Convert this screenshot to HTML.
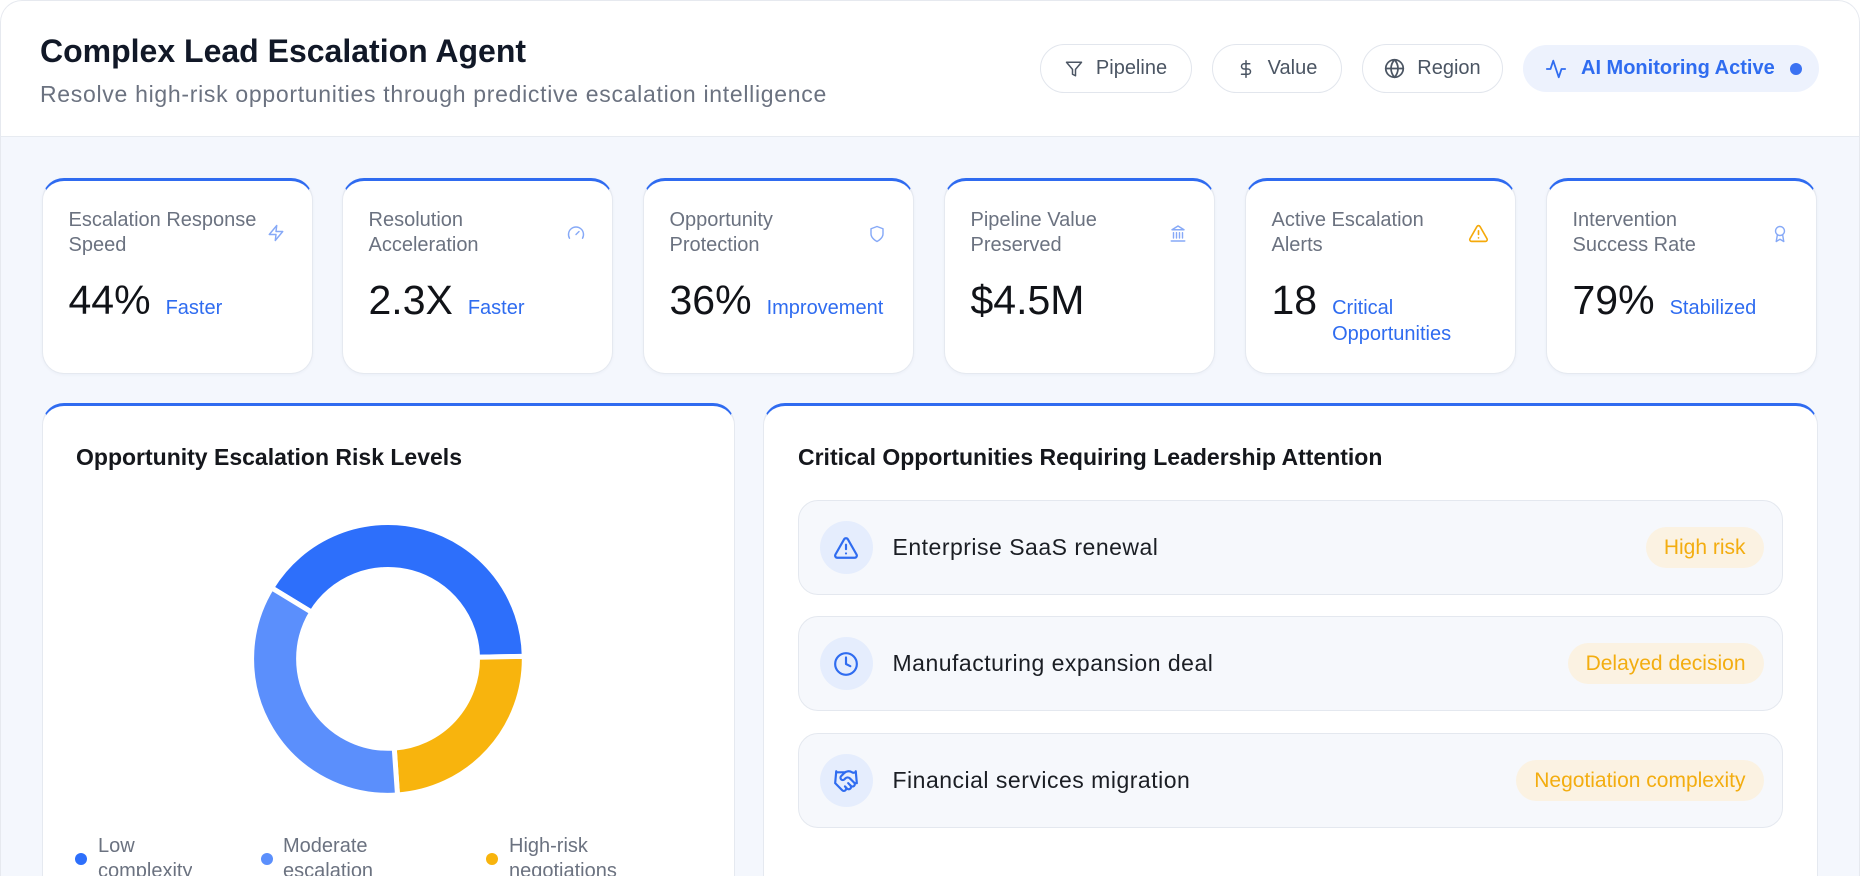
<!DOCTYPE html>
<html><head><meta charset="utf-8">
<style>
*{box-sizing:border-box;margin:0;padding:0}
html,body{width:1860px;height:876px;overflow:hidden;background:#fff;font-family:"Liberation Sans",Arial,sans-serif}
.wrap{position:absolute;left:0;top:0;width:1860px;height:876px;border-radius:22px 22px 0 0;background:#f4f7fd;overflow:hidden}
.frame{position:absolute;left:0;top:0;width:1860px;height:876px;border-radius:22px 22px 0 0;border:1px solid #e6e9ef;border-bottom:none;pointer-events:none}
.header{position:absolute;left:0;top:0;width:1860px;height:137px;background:#fff;border-bottom:1px solid #e7ebf1}
.abs{position:absolute;white-space:nowrap}
.title{left:40px;top:35px;font-size:32px;line-height:32px;font-weight:bold;color:#111827}
.sub{left:40px;top:83px;font-size:23px;line-height:23px;color:#6b7280;letter-spacing:0.7px}
.pill{position:absolute;top:44px;height:49px;border:1.5px solid #e2e6ed;border-radius:25px;background:#fff;display:flex;align-items:center;justify-content:center;gap:13px;font-size:20px;color:#4b5563;white-space:nowrap}
.pill svg{fill:none;stroke:#4b5563;stroke-width:2;stroke-linecap:round;stroke-linejoin:round}
.ai{position:absolute;left:1523px;top:45px;width:296px;height:47px;border-radius:24px;background:#edf2fd;display:flex;align-items:center;padding-left:22px;font-size:20px;font-weight:bold;color:#2f6cf0;white-space:nowrap}
.ai svg{fill:none;stroke:#2f6cf0;stroke-width:2;stroke-linecap:round;stroke-linejoin:round;margin-right:14px}
.ai .dot{width:12px;height:12px;border-radius:50%;background:#3b72f2;margin-left:15px}
.card{position:absolute;top:178px;width:271px;height:196px;background:#fff;border:1.5px solid #e5e9f0;border-top:3px solid #2f6bf0;border-radius:22px;box-shadow:0 1px 3px rgba(20,40,90,0.04)}
.card .lbl{position:absolute;left:25.5px;top:27px;font-size:20px;line-height:25px;color:#6b7280;white-space:nowrap}
.card .ico{position:absolute;right:27.5px;top:43px;width:18px;height:18px}
.card .ico svg{fill:none;stroke:#86a9f7;stroke-width:1.9;stroke-linecap:round;stroke-linejoin:round}
.card .val{position:absolute;left:25.5px;top:99px;display:flex;align-items:baseline;white-space:nowrap}
.card .num{font-size:41px;line-height:41px;color:#111318}
.card .suf{font-size:20px;line-height:26px;color:#2f6cf0;margin-left:15px}
.panel{position:absolute;top:403px;height:473px;background:#fff;border:1.5px solid #e5e9f0;border-top:3px solid #2f6bf0;border-bottom:none;border-radius:22px 22px 0 0}
.ptitle{font-size:23px;line-height:23px;font-weight:bold;color:#15171c;top:446px}
.leg{position:absolute;top:834px;height:42px;overflow:hidden;font-size:20px;line-height:25px;color:#6b7280;white-space:nowrap}
.ldot{position:absolute;top:853px;width:12px;height:12px;border-radius:50%}
.row{position:absolute;left:798px;width:985px;height:95px;background:#f6f8fc;border:1.5px solid #e4e8ef;border-radius:20px;display:flex;align-items:center;padding-left:20.5px;padding-right:18.5px}
.row .circ{width:53px;height:53px;border-radius:50%;background:#e5edfd;display:flex;align-items:center;justify-content:center;flex:none}
.row .circ svg{fill:none;stroke:#2f6cf0;stroke-width:2;stroke-linecap:round;stroke-linejoin:round}
.row .txt{margin-left:20px;font-size:23px;letter-spacing:0.5px;color:#1b1e24;white-space:nowrap;flex:1}
.row .badge{height:41px;border-radius:21px;background:#fbf2e2;color:#f3ad10;font-size:21px;line-height:41px;padding:0 18px;white-space:nowrap}
</style></head>
<body>
<div class="wrap">
  <div class="header"></div>
  <div class="abs title">Complex Lead Escalation Agent</div>
  <div class="abs sub">Resolve high-risk opportunities through predictive escalation intelligence</div>

  <div class="pill" style="left:1040px;width:152px;">
    <svg width="18" height="18" viewBox="0 0 24 24"><polygon points="22 3 2 3 10 12.46 10 19 14 21 14 12.46 22 3"/></svg>
    <span>Pipeline</span>
  </div>
  <div class="pill" style="left:1212px;width:130px;">
    <svg width="18" height="20" viewBox="0 0 24 24"><line x1="12" y1="1" x2="12" y2="23"/><path d="M17 5H9.5a3.5 3.5 0 0 0 0 7h5a3.5 3.5 0 0 1 0 7H6"/></svg>
    <span>Value</span>
  </div>
  <div class="pill" style="left:1362px;width:141px;gap:12px;">
    <svg width="21" height="21" viewBox="0 0 24 24"><circle cx="12" cy="12" r="10"/><line x1="2" y1="12" x2="22" y2="12"/><path d="M12 2a15.3 15.3 0 0 1 4 10 15.3 15.3 0 0 1-4 10 15.3 15.3 0 0 1-4-10 15.3 15.3 0 0 1 4-10z"/></svg>
    <span>Region</span>
  </div>
  <div class="ai">
    <svg width="22" height="22" viewBox="0 0 24 24"><polyline points="22 12 18 12 15 21 9 3 6 12 2 12"/></svg>
    <span>AI Monitoring Active</span>
    <span class="dot"></span>
  </div>

  <!-- KPI cards -->
  <div class="card" style="left:42px;">
    <div class="lbl">Escalation Response<br>Speed</div>
    <div class="ico"><svg width="18" height="18" viewBox="0 0 24 24"><polygon points="13 2 3 14 12 14 11 22 21 10 12 10 13 2"/></svg></div>
    <div class="val"><span class="num">44%</span><span class="suf">Faster</span></div>
  </div>
  <div class="card" style="left:342px;">
    <div class="lbl">Resolution<br>Acceleration</div>
    <div class="ico"><svg width="18" height="18" viewBox="0 0 24 24"><path d="m12 14 4-4"/><path d="M3.34 19a10 10 0 1 1 17.32 0"/></svg></div>
    <div class="val"><span class="num">2.3X</span><span class="suf">Faster</span></div>
  </div>
  <div class="card" style="left:643px;">
    <div class="lbl">Opportunity<br>Protection</div>
    <div class="ico"><svg width="18" height="20" viewBox="0 0 24 24"><path d="M12 22s8-4 8-10V5l-8-3-8 3v7c0 6 8 10 8 10z"/></svg></div>
    <div class="val"><span class="num">36%</span><span class="suf">Improvement</span></div>
  </div>
  <div class="card" style="left:944px;">
    <div class="lbl">Pipeline Value<br>Preserved</div>
    <div class="ico"><svg width="18" height="19" viewBox="0 0 24 24"><line x1="3" y1="22" x2="21" y2="22"/><line x1="6" y1="18" x2="6" y2="11"/><line x1="10" y1="18" x2="10" y2="11"/><line x1="14" y1="18" x2="14" y2="11"/><line x1="18" y1="18" x2="18" y2="11"/><polygon points="12 2 20 7 4 7"/></svg></div>
    <div class="val"><span class="num">$4.5M</span></div>
  </div>
  <div class="card" style="left:1245px;">
    <div class="lbl">Active Escalation<br>Alerts</div>
    <div class="ico" style="width:21px;height:21px;right:26px;top:42px;"><svg width="21" height="21" viewBox="0 0 24 24" style="stroke:#f5a90a"><path d="m21.73 18-8-14a2 2 0 0 0-3.48 0l-8 14A2 2 0 0 0 4 21h16a2 2 0 0 0 1.73-3Z"/><line x1="12" y1="9" x2="12" y2="13"/><line x1="12" y1="17" x2="12.01" y2="17"/></svg></div>
    <div class="val"><span class="num">18</span><span class="suf">Critical<br>Opportunities</span></div>
  </div>
  <div class="card" style="left:1546px;">
    <div class="lbl">Intervention<br>Success Rate</div>
    <div class="ico"><svg width="18" height="20" viewBox="0 0 24 24"><circle cx="12" cy="8" r="6"/><path d="M15.477 12.89 17 22l-5-3-5 3 1.523-9.11"/></svg></div>
    <div class="val"><span class="num">79%</span><span class="suf">Stabilized</span></div>
  </div>

  <!-- Panels -->
  <div class="panel" style="left:42px;width:693px;"></div>
  <div class="panel" style="left:763px;width:1055px;"></div>

  <div class="abs ptitle" style="left:76px;">Opportunity Escalation Risk Levels</div>
  <div class="abs ptitle" style="left:798px;">Critical Opportunities Requiring Leadership Attention</div>

  <svg class="abs" style="left:238px;top:509px;" width="300" height="300" viewBox="238 509 300 300">
    <g stroke="#fff" stroke-width="5" stroke-linejoin="miter">
      <path d="M271.63,587.84 A136.3,136.3 0 0 1 524.28,656.34 L477.49,657.24 A89.5,89.5 0 0 0 311.67,612.25 Z" fill="#2d6ffb"/>
      <path d="M524.28,656.34 A136.3,136.3 0 0 1 397.51,794.97 L394.24,748.08 A89.5,89.5 0 0 0 477.49,657.24 Z" fill="#f8b40d"/>
      <path d="M397.51,794.97 A136.3,136.3 0 0 1 271.63,587.84 L311.67,612.25 A89.5,89.5 0 0 0 394.24,748.08 Z" fill="#5b8ffc"/>
    </g>
  </svg>

  <div class="ldot" style="left:74.5px;background:#2d6ffb;"></div>
  <div class="leg" style="left:98px;">Low<br>complexity</div>
  <div class="ldot" style="left:260.5px;background:#5b8ffc;"></div>
  <div class="leg" style="left:283px;">Moderate<br>escalation</div>
  <div class="ldot" style="left:486px;background:#f8b40d;"></div>
  <div class="leg" style="left:509px;">High-risk<br>negotiations</div>

  <div class="row" style="top:500px;">
    <div class="circ"><svg width="26" height="26" viewBox="0 0 24 24"><path d="m21.73 18-8-14a2 2 0 0 0-3.48 0l-8 14A2 2 0 0 0 4 21h16a2 2 0 0 0 1.73-3Z"/><line x1="12" y1="9" x2="12" y2="13"/><line x1="12" y1="17" x2="12.01" y2="17"/></svg></div>
    <div class="txt">Enterprise SaaS renewal</div>
    <div class="badge">High risk</div>
  </div>
  <div class="row" style="top:616px;">
    <div class="circ"><svg width="26" height="26" viewBox="0 0 24 24"><circle cx="12" cy="12" r="10"/><polyline points="12 6 12 12 16 14"/></svg></div>
    <div class="txt">Manufacturing expansion deal</div>
    <div class="badge">Delayed decision</div>
  </div>
  <div class="row" style="top:733px;">
    <div class="circ"><svg width="26" height="26" viewBox="0 0 24 24"><path d="m11 17 2 2a1 1 0 1 0 3-3"/><path d="m14 14 2.5 2.5a1 1 0 1 0 3-3l-3.88-3.88a3 3 0 0 0-4.24 0l-.88.88a1 1 0 1 1-3-3l2.81-2.81a5.79 5.79 0 0 1 7.06-.87l.47.28a2 2 0 0 0 1.42.25L21 4"/><path d="m21 3 1 11h-2"/><path d="M3 3 2 14l6.5 6.5a1 1 0 1 0 3-3"/><path d="M3 4h8"/></svg></div>
    <div class="txt">Financial services migration</div>
    <div class="badge">Negotiation complexity</div>
  </div>
  <div class="frame"></div>
</div>
</body></html>
